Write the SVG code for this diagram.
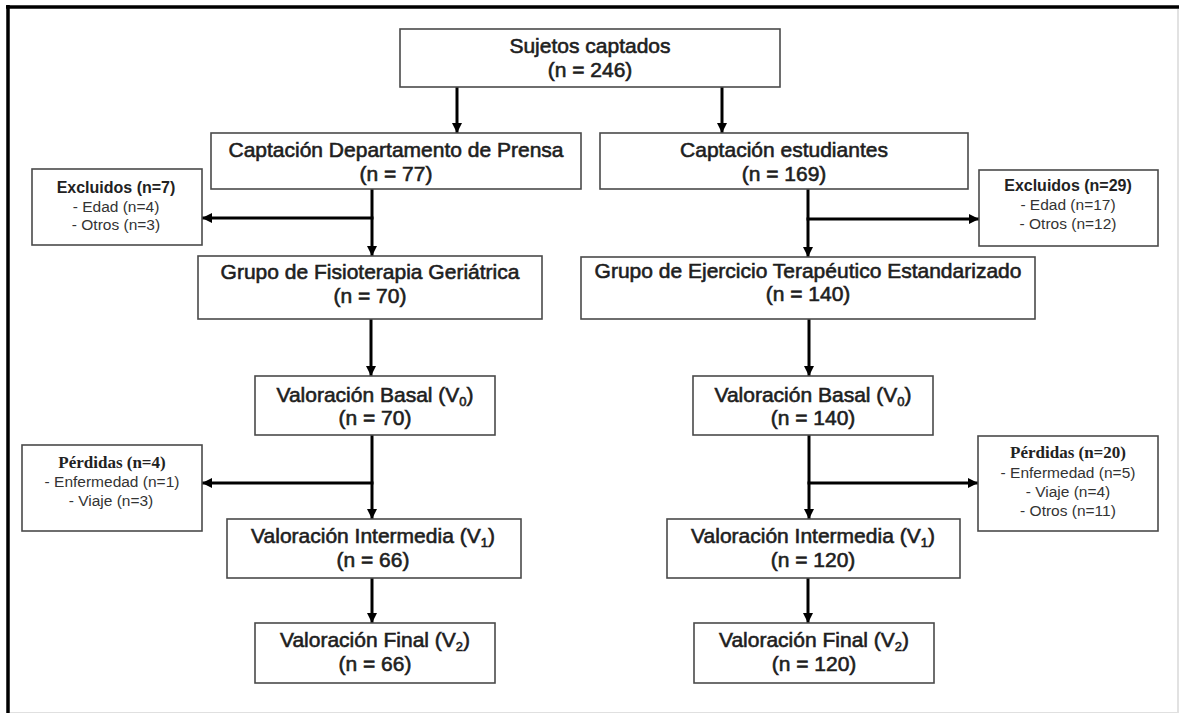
<svg xmlns="http://www.w3.org/2000/svg" width="1180" height="714" viewBox="0 0 1180 714">
<style>
.box{fill:#fff;stroke:#4a4a4a;stroke-width:1.6}
.main{font-family:"Liberation Sans",Arial,sans-serif;font-size:21px;fill:#1e1e1e;stroke:#1e1e1e;stroke-width:0.6;text-anchor:middle}
.sub{font-size:13px}
.t1{font-family:"Liberation Sans",Arial,sans-serif;font-size:16px;font-weight:bold;fill:#222;text-anchor:middle}
.t2{font-family:"Liberation Serif","Times New Roman",serif;font-size:17px;font-weight:bold;fill:#222;text-anchor:middle}
.sm{font-family:"Liberation Sans",Arial,sans-serif;font-size:15.5px;fill:#333;text-anchor:middle}
.ca{stroke:#000;stroke-width:3;fill:none;marker-end:url(#ah)}
</style>
<defs>
<marker id="ah" markerUnits="userSpaceOnUse" markerWidth="11" markerHeight="11" refX="10" refY="5" orient="auto">
<path d="M0,0 L10,5 L0,10 z" fill="#000"/>
</marker>
</defs>
<rect x="0" y="0" width="1180" height="714" fill="#fff"/>
<g id="frame">
<line x1="6" y1="7" x2="1179" y2="7" stroke="#000" stroke-width="3.5"/>
<line x1="8" y1="5" x2="8" y2="713" stroke="#000" stroke-width="3.5"/>
<line x1="1178" y1="9" x2="1178" y2="713" stroke="#cfcfcf" stroke-width="1.2"/>
<line x1="10" y1="712.5" x2="1178" y2="712.5" stroke="#e0e0e0" stroke-width="1"/>
</g>
<g id="connectors">
<line class="ca" x1="457" y1="87" x2="457" y2="133"/>
<line class="ca" x1="722" y1="87" x2="722" y2="133"/>
<line class="ca" x1="372" y1="189" x2="372" y2="256"/>
<line class="ca" x1="373.5" y1="218" x2="202" y2="218"/>
<line class="ca" x1="808" y1="189" x2="808" y2="257"/>
<line class="ca" x1="806.5" y1="219" x2="979" y2="219"/>
<line class="ca" x1="371" y1="319" x2="371" y2="376"/>
<line class="ca" x1="809" y1="319" x2="809" y2="376"/>
<line class="ca" x1="372" y1="435" x2="372" y2="519"/>
<line class="ca" x1="373.5" y1="483" x2="202" y2="483"/>
<line class="ca" x1="809" y1="435" x2="809" y2="519"/>
<line class="ca" x1="807.5" y1="483" x2="978" y2="483"/>
<line class="ca" x1="372" y1="578" x2="372" y2="623"/>
<line class="ca" x1="808" y1="578" x2="808" y2="623"/>
</g>
<g id="sujetos">
<rect class="box" x="400" y="29" width="380" height="58"/>
<text class="main" x="590" y="53">Sujetos captados</text>
<text class="main" x="590" y="77">(n = 246)</text>
</g>
<g id="captacion-prensa">
<rect class="box" x="211" y="133" width="370" height="56"/>
<text class="main" x="396" y="157">Captación Departamento de Prensa</text>
<text class="main" x="396" y="181">(n = 77)</text>
</g>
<g id="captacion-estudiantes">
<rect class="box" x="600" y="133" width="368" height="56"/>
<text class="main" x="784" y="157">Captación estudiantes</text>
<text class="main" x="784" y="181">(n = 169)</text>
</g>
<g id="excluidos-izq">
<rect class="box" x="32" y="169" width="170" height="76"/>
<text class="t1" x="116" y="193">Excluidos (n=7)</text>
<text class="sm" x="116" y="212">- Edad (n=4)</text>
<text class="sm" x="116" y="230">- Otros (n=3)</text>
</g>
<g id="excluidos-der">
<rect class="box" x="979" y="170" width="179" height="76"/>
<text class="t1" x="1068" y="191">Excluidos (n=29)</text>
<text class="sm" x="1068" y="210">- Edad (n=17)</text>
<text class="sm" x="1068" y="229">- Otros (n=12)</text>
</g>
<g id="grupo-fisio">
<rect class="box" x="198" y="256" width="344" height="63"/>
<text class="main" x="370" y="279">Grupo de Fisioterapia Geriátrica</text>
<text class="main" x="370" y="303">(n = 70)</text>
</g>
<g id="grupo-ejercicio">
<rect class="box" x="581" y="257" width="454" height="62"/>
<text class="main" x="808" y="278">Grupo de Ejercicio Terapéutico Estandarizado</text>
<text class="main" x="808" y="301">(n = 140)</text>
</g>
<g id="basal-izq">
<rect class="box" x="255" y="376" width="240" height="59"/>
<text class="main" x="375" y="402">Valoración Basal (V<tspan class="sub" dy="4">0</tspan><tspan dy="-4">)</tspan></text>
<text class="main" x="375" y="425">(n = 70)</text>
</g>
<g id="basal-der">
<rect class="box" x="693" y="376" width="240" height="59"/>
<text class="main" x="813" y="402">Valoración Basal (V<tspan class="sub" dy="4">0</tspan><tspan dy="-4">)</tspan></text>
<text class="main" x="813" y="425">(n = 140)</text>
</g>
<g id="perdidas-izq">
<rect class="box" x="22" y="445" width="180" height="86"/>
<text class="t2" x="112" y="468">Pérdidas (n=4)</text>
<text class="sm" x="112" y="487">- Enfermedad (n=1)</text>
<text class="sm" x="111" y="506">-  Viaje (n=3)</text>
</g>
<g id="perdidas-der">
<rect class="box" x="978" y="436" width="180" height="95"/>
<text class="t2" x="1068" y="458">Pérdidas (n=20)</text>
<text class="sm" x="1068" y="478">- Enfermedad (n=5)</text>
<text class="sm" x="1068" y="497">- Viaje (n=4)</text>
<text class="sm" x="1068" y="516">- Otros (n=11)</text>
</g>
<g id="intermedia-izq">
<rect class="box" x="227" y="519" width="294" height="59"/>
<text class="main" x="373" y="543">Valoración Intermedia  (V<tspan class="sub" dy="4">1</tspan><tspan dy="-4">)</tspan></text>
<text class="main" x="373" y="567">(n = 66)</text>
</g>
<g id="intermedia-der">
<rect class="box" x="667" y="519" width="293" height="59"/>
<text class="main" x="813" y="543">Valoración Intermedia  (V<tspan class="sub" dy="4">1</tspan><tspan dy="-4">)</tspan></text>
<text class="main" x="813" y="567">(n = 120)</text>
</g>
<g id="final-izq">
<rect class="box" x="255" y="623" width="240" height="60"/>
<text class="main" x="375" y="647">Valoración Final (V<tspan class="sub" dy="4">2</tspan><tspan dy="-4">)</tspan></text>
<text class="main" x="375" y="671">(n = 66)</text>
</g>
<g id="final-der">
<rect class="box" x="694" y="623" width="240" height="60"/>
<text class="main" x="814" y="647">Valoración Final (V<tspan class="sub" dy="4">2</tspan><tspan dy="-4">)</tspan></text>
<text class="main" x="814" y="671">(n = 120)</text>
</g>
</svg>
